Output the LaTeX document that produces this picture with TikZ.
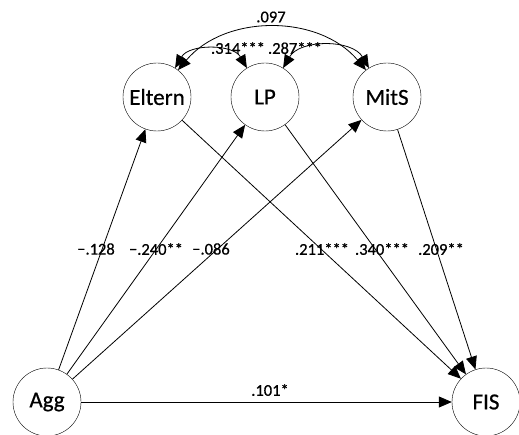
\documentclass[tikz,border=0pt]{standalone}
\usepackage{fontspec}
\setmainfont{Carlito}[FakeBold=0.6]
\usetikzlibrary{arrows.meta}
\begin{document}
\begin{tikzpicture}[x=1pt,y=-1pt,
  var/.style={draw,circle,minimum size=68pt,inner sep=0pt,font=\fontsize{23}{23}\selectfont},
  lab/.style={font=\fontsize{16.5}{16.5}\selectfont,inner sep=0pt},
  arr/.style={-{Triangle[length=13pt,width=11pt]},line width=0.8pt},
  darr/.style={{Triangle[length=13pt,width=11pt]}-{Triangle[length=13pt,width=11pt]},line width=0.8pt}]
\useasboundingbox (0,0) rectangle (519,435);
\node[var] (Eltern) at (157,97) {Eltern};
\node[var] (LP) at (265,97) {LP};
\node[var] (MitS) at (387,97) {MitS};
\node[var] (Agg) at (47,402) {Agg};
\node[var] (FIS) at (486,402) {FIS};
\draw[arr] (Agg) -- (Eltern);
\draw[arr] (Agg) -- (LP);
\draw[arr] (Agg) -- (MitS);
\draw[arr] (Eltern) -- (FIS);
\draw[arr] (LP) -- (FIS);
\draw[arr] (MitS) -- (FIS);
\draw[arr] (Agg) -- (FIS);
\draw[darr] (Eltern.58) to[out=60,in=120] (LP.122);
\draw[darr] (LP.58) to[out=60,in=120] (MitS.122);
\draw[darr] (Eltern.52) to[out=50,in=130] (MitS.128);
\node[lab] (l1) at (96,249) {−.128};
\node[lab] (l2) at (156,249) {−.240**};
\node[lab] (l3) at (211,249) {−.086};
\node[lab] (l4) at (322,249) {.211***};
\node[lab] (l5) at (382,249) {.340***};
\node[lab] (l6) at (441,249) {.209**};
\node[lab] (l7) at (270,390) {.101*};
\node[lab] (l8) at (271,17) {.097};
\node[lab] (l9) at (238,48) {.314***};
\node[lab] (l10) at (295,48) {.287***};
\end{tikzpicture}
\end{document}
